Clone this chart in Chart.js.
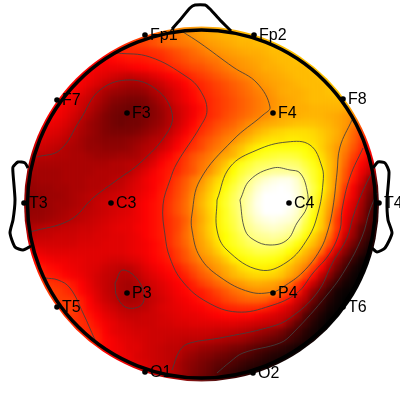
<!DOCTYPE html>
<html>
<head>
<meta charset="utf-8">
<style>
  html, body { margin: 0; background: #fff; }
  canvas { display: block; }
</style>
<script src="https://cdn.jsdelivr.net/npm/chart.js@4/dist/chart.umd.min.js"></script>
</head>
<body>
<canvas id="topo" width="400" height="400"></canvas>
<script>
/* Scalp map. Axes are in mm from the middle of the picture, field values are percent of the colour range. */

var electrodeNames = ['Fp1', 'Fp2', 'F7', 'F3', 'F4', 'F8', 'T3', 'C3', 'C4', 'T4', 'T5', 'P3', 'P4', 'T6', 'O1', 'O2'];
var electrodeX = [-27.5, 27, -71.5, -36.5, 36.5, 71.5, -88, -44.5, 44.5, 89.5, -71.5, -36.5, 36.5, 71.5, -27.5, 26.5];
var electrodeY = [82.5, 82.5, 50, 43.5, 43.5, 50.5, -1.5, -1.5, -1.5, -1.5, -53.5, -46.5, -46.5, -53.5, -86, -86.5];

// one row per grid line, front of the head first, each row centred on the head
var fieldRows = [
  [57,59,60,61,62,63,64],
  [47,49,51,53,55,57,59,61,62,63,64,64,65,65,65],
  [43,44,46,47,49,51,53,54,55,56,58,60,61,62,63,64,64,65,65,66,66],
  [40,41,42,43,43,43,44,45,47,49,51,53,55,57,59,60,61,62,63,63,64,65,65,66,66],
  [37,37,38,39,40,40,41,42,43,45,47,49,51,52,54,55,58,59,60,61,62,63,64,65,65,66,66],
  [37,36,35,35,35,36,37,38,39,40,42,44,46,48,49,51,53,55,57,59,60,61,63,63,64,65,65,65,66],
  [37,36,34,33,31,30,29,30,31,33,35,37,39,41,44,46,48,50,52,54,56,58,60,61,62,63,64,65,65,65,66],
  [38,36,34,32,29,27,25,24,24,26,28,30,33,35,38,41,43,45,47,49,51,53,55,58,60,61,62,63,64,65,65,65,66],
  [39,37,34,31,28,25,23,22,21,21,22,25,27,30,33,36,39,42,44,46,48,50,52,54,56,58,60,62,63,63,64,65,65,66,66],
  [39,37,34,31,29,26,23,20,19,18,18,19,22,25,29,32,35,38,41,43,45,47,49,51,53,55,57,59,61,62,63,64,65,65,65,65,65],
  [38,37,35,33,30,27,24,21,18,17,16,16,18,20,23,26,30,33,36,39,43,45,47,49,51,53,55,57,59,61,62,63,63,64,64,64,64,63,61],
  [37,36,34,31,28,25,22,19,17,16,16,17,18,20,22,26,29,33,36,40,43,45,48,50,52,54,56,58,60,62,63,63,64,64,64,63,62,60,58],
  [36,35,34,32,29,26,23,21,19,17,16,17,17,19,21,23,26,30,34,38,42,45,48,50,52,55,58,60,62,63,64,65,66,66,66,65,64,62,60,56,50],
  [34,33,32,30,27,25,23,21,19,18,18,18,19,21,23,25,28,32,36,40,44,47,50,53,55,58,61,64,66,68,69,70,70,70,69,67,65,63,59,53,47],
  [33,32,31,30,28,26,24,22,21,20,20,20,21,22,24,26,27,31,35,39,43,47,50,53,56,58,62,65,68,70,71,71,72,72,71,70,68,65,62,58,52,46,40],
  [30,30,29,28,26,25,24,22,22,21,21,21,22,24,26,27,30,33,37,41,45,48,52,55,58,63,66,70,73,75,76,76,76,76,75,72,68,64,60,56,50,44,38],
  [27,27,27,26,26,25,25,24,23,23,23,24,24,25,27,30,34,37,41,45,49,52,55,59,62,64,69,74,77,79,80,81,81,80,77,74,70,65,60,54,47,41,36],
  [25,25,25,25,25,25,25,25,25,25,25,26,26,27,27,30,33,37,40,42,46,50,54,57,62,66,73,77,80,83,84,85,86,86,85,81,77,72,66,60,52,44,38,32,28],
  [24,24,24,24,24,25,25,25,25,26,26,26,26,27,30,33,36,39,41,43,47,50,55,59,64,70,75,80,83,86,88,90,90,90,89,84,79,74,66,59,50,42,35,29,24],
  [23,23,24,24,24,25,25,25,26,26,26,27,28,30,32,35,37,39,42,46,50,55,59,64,69,73,78,83,88,92,95,97,98,98,95,87,80,74,66,58,49,40,32,22,14],
  [22,22,23,23,24,24,25,25,26,26,27,28,29,31,33,35,37,40,43,47,51,56,61,66,71,76,81,86,90,95,98,99,100,99,96,90,82,75,66,57,45,36,28,20,12],
  [21,21,22,23,23,24,25,26,27,28,29,30,31,32,34,36,38,41,44,48,52,58,63,68,73,78,83,88,92,97,100,100,100,100,97,90,81,73,64,55,42,35,26,17,9],
  [21,21,22,23,24,24,25,26,27,29,30,31,32,33,35,37,39,41,45,49,53,59,64,69,74,79,84,88,93,98,100,100,100,100,97,90,80,70,62,52,39,32,24,15,7],
  [21,22,22,23,24,25,26,27,28,29,30,31,32,33,35,37,39,41,45,49,53,58,63,68,73,78,83,88,93,97,100,100,100,98,95,87,77,69,60,48,37,30,22,13,6],
  [22,23,23,24,25,26,27,28,29,30,31,32,33,34,35,37,39,41,44,47,51,57,62,67,73,78,82,87,91,95,97,98,97,96,93,83,75,68,58,45,35,27,20,12,6],
  [25,26,27,28,28,29,29,30,30,31,32,33,34,34,36,37,39,41,44,47,52,58,63,68,73,77,81,86,89,92,94,95,94,92,89,80,74,67,58,45,34,24,15,10,5],
  [28,28,29,29,30,30,30,31,31,32,32,33,33,34,35,37,39,41,44,48,53,58,62,67,72,75,79,83,87,89,90,91,90,88,83,76,69,62,54,42,30,22,13,8,4],
  [32,31,31,31,31,31,31,32,32,32,33,33,33,34,35,36,38,40,44,48,52,57,61,65,70,75,78,81,84,86,87,87,85,81,76,71,65,59,49,38,25,17,10,5,2],
  [35,34,33,33,33,33,33,33,33,33,33,33,34,35,36,38,40,42,46,50,55,60,63,67,72,75,78,80,82,82,81,79,75,71,65,60,53,41,29,20,12,7,2],
  [39,37,36,35,35,34,34,33,33,32,31,31,32,33,35,37,39,41,45,49,53,57,60,63,67,72,74,76,77,77,76,74,70,65,61,55,43,32,22,14,8,3,0],
  [42,41,39,38,36,35,34,33,32,30,29,28,28,30,33,35,37,39,41,45,49,53,57,60,63,66,70,72,73,73,72,69,65,61,56,46,37,26,17,10,4,1,0],
  [43,41,40,38,36,35,33,31,29,28,26,26,28,31,33,35,37,39,42,46,50,53,57,61,64,66,68,69,69,68,66,62,58,48,39,28,20,12,6,2,0],
  [46,45,44,43,40,37,34,31,29,27,25,24,26,29,31,33,35,37,39,42,46,49,52,55,58,60,62,63,62,61,59,54,46,38,29,21,13,7,3,1,0],
  [46,46,44,42,38,35,32,29,27,25,24,25,27,30,32,34,36,38,40,41,44,47,50,53,55,57,58,58,58,52,46,41,30,21,14,8,3,1,0],
  [45,46,46,45,41,37,33,30,28,25,24,25,27,29,31,33,35,36,38,40,42,44,47,49,51,52,52,51,47,44,39,31,26,16,10,5,2,0,0],
  [45,46,46,42,38,35,32,30,28,27,27,28,30,32,33,34,35,36,37,39,40,42,43,44,44,44,42,39,35,31,27,19,11,7,3,1,0],
  [45,45,43,40,37,34,32,30,29,29,30,30,31,32,33,34,34,35,36,37,38,38,38,38,36,34,32,30,28,21,12,8,4,1,0],
  [44,44,42,39,36,34,32,31,30,30,30,31,31,32,32,33,33,33,33,33,33,32,31,30,29,28,27,20,14,10,5,2,0],
  [43,43,41,37,34,33,32,31,31,30,30,30,30,30,30,30,30,29,29,28,27,26,24,22,20,17,13,10,6,3,1],
  [43,42,38,36,34,33,32,31,30,30,29,29,28,28,28,27,26,25,24,23,21,19,17,15,13,10,7,4,2],
  [41,38,36,35,33,33,31,30,29,28,28,26,25,23,22,21,20,18,17,15,13,11,9,7,5,3,1],
  [38,36,35,34,32,31,30,29,28,27,24,22,20,19,17,16,14,13,11,9,7,5,4,2,1],
  [35,34,33,32,30,29,28,25,22,20,18,16,14,13,11,9,7,6,4,3,1],
  [32,30,29,28,25,22,19,17,15,12,10,8,6,4,3],
  [24,20,17,15,13,11,9]
];

// contour lines, as [x, y]
var contourInner = [[20,0],[25,10],[36.5,16],[45,15],[50,13.5],[53.5,5],[53.5,-3.5],[48.5,-11.5],[43.5,-20],[35,-22.5],[27,-20],[22.5,-15],[20,0]];
var contourYellow = [[8.5,0],[15,16.5],[28.5,25],[43.5,29],[55,27.5],[61,16.5],[61.5,8.5],[59,-6.5],[54,-19],[43.5,-31],[30,-35],[13.5,-25],[8.5,-15],[8.5,0]];
var contourOrange = [[-8.5,84],[0,78.5],[16.5,66.5],[28.5,58.5],[35,46.5],[31.5,42.5],[16.5,30],[0,10],[-4,-7],[-4,-15],[0,-28.5],[10,-38.5],[25,-46],[36.5,-46],[41.5,-43.5],[51.5,-36],[60,-25],[64,-15],[66.5,-3.5],[68.5,13.5],[70,26.5],[76,40]];
var contourRed = [[-41.5,73.5],[-25,71.5],[-6.5,61.5],[0,55],[3.5,45],[0,36.5],[-11.5,18.5],[-15,10],[-18.5,-2.5],[-17.5,-17.5],[-15,-29],[-8.5,-41],[3.5,-51],[18.5,-56],[35,-53],[48.5,-46.5],[56.5,-36.5],[65,-26.5],[70,-15],[71,-5],[75,11.5],[81.5,26]];
var contourT5 = [[-77.5,-39],[-71,-40],[-65,-44],[-58.5,-56.5],[-52.5,-70]];
var contourF3 = [[-81.5,21.5],[-70,25],[-60,40],[-50,55],[-35,60],[-21.5,55],[-14,43.5],[-16.5,33.5],[-30,18.5],[-41.5,10],[-53.5,1],[-65,-10],[-85,-16]];
var contourP3 = [[-42.5,-41.5],[-38.5,-35],[-30,-41.5],[-28.5,-51.5],[-36,-54],[-41.5,-48.5],[-42.5,-41.5]];
var contourDark = [[-14,-85],[-10,-75],[-5,-71.5],[10,-69],[35,-63.5],[45,-59],[58.5,-46.5],[66.5,-31],[73.5,-19],[76.5,-8.5],[81,3.5],[86.5,15]];
var contourBlack = [[8.5,-86.5],[15,-81],[21.5,-76.5],[40,-71.5],[46.5,-66.5],[63.5,-47.5],[72.5,-35],[81,-18.5],[85,-5],[88.5,3.5]];

var noseLine = [[-14,85.5],[-10,90],[-5,96],[-2.5,97.5],[2.5,97.5],[5,95.5],[10,90],[15.5,84.5]];
var earLeft = [[-86,16],[-87.5,18.5],[-91,19],[-93.5,16.5],[-93.5,13.5],[-92.5,0],[-93.5,-10],[-95,-16.5],[-92.5,-23.5],[-88.5,-25],[-84.5,-23]];
var earRight = [[86.5,16],[89,19],[92.5,18.5],[94.5,14],[93.5,0],[94,-10],[96,-16.5],[92.5,-24],[88.5,-26],[86,-24]];

var headX = 0.75, headY = -2, headR = 87, discR = 88.75, cellStep = 4;
var edgeCells = 3; // repeat the rim value past each row end so the disc is fully covered

function hot(pct) {
  var v = pct / 100;
  var r = Math.min(1, v / 0.375);
  var g = Math.max(0, Math.min(1, (v - 0.375) / 0.375));
  var b = Math.max(0, Math.min(1, (v - 0.75) / 0.25));
  return 'rgb(' + Math.round(r * 255) + ',' + Math.round(g * 255) + ',' + Math.round(b * 255) + ')';
}

function toPoints(list) {
  return list.map(function (p) { return { x: p[0], y: p[1] }; });
}

var cellPoints = [];
var cellColors = [];
fieldRows.forEach(function (row, j) {
  for (var i = -edgeCells; i < row.length + edgeCells; i++) {
    var val = row[Math.max(0, Math.min(row.length - 1, i))];
    cellPoints.push({
      x: headX + cellStep * (i - (row.length - 1) / 2),
      y: headY + cellStep * ((fieldRows.length - 1) / 2 - j)
    });
    cellColors.push(hot(val));
  }
});

var contourSets = [contourInner, contourYellow, contourOrange, contourRed, contourT5, contourF3, contourP3, contourDark, contourBlack].map(function (c) {
  return { data: toPoints(c), showLine: true, pointRadius: 0, borderColor: 'rgba(64,64,64,0.85)', borderWidth: 1, tension: 0.4, order: 5 };
});

var outlineSets = [noseLine, earLeft, earRight].map(function (c) {
  return { data: toPoints(c), showLine: true, pointRadius: 0, borderColor: '#000', borderWidth: 3, tension: 0.2, order: 3, clip: false };
});

// softens the cell edges, then trims the field to the head disc
var discSoften = {
  id: 'discSoften',
  afterDatasetDraw: function (chart, args) {
    if (args.index !== 0) return;
    var sx = chart.scales.x, sy = chart.scales.y;
    var ctx = chart.ctx;
    var copy = document.createElement('canvas');
    copy.width = chart.canvas.width;
    copy.height = chart.canvas.height;
    copy.getContext('2d').drawImage(chart.canvas, 0, 0);
    ctx.save();
    ctx.clearRect(0, 0, copy.width, copy.height);
    ctx.beginPath();
    ctx.arc(sx.getPixelForValue(headX), sy.getPixelForValue(headY), sx.getPixelForValue(discR) - sx.getPixelForValue(0), 0, Math.PI * 2);
    ctx.clip();
    ctx.filter = 'blur(2.5px)';
    ctx.drawImage(copy, 0, 0);
    ctx.restore();
  }
};

var headAndLabels = {
  id: 'headAndLabels',
  afterDatasetsDraw: function (chart) {
    var sx = chart.scales.x, sy = chart.scales.y;
    var ctx = chart.ctx;
    ctx.save();
    ctx.beginPath();
    ctx.arc(sx.getPixelForValue(headX), sy.getPixelForValue(headY), sx.getPixelForValue(headR) - sx.getPixelForValue(0), 0, Math.PI * 2);
    ctx.lineWidth = 3.5;
    ctx.strokeStyle = '#000';
    ctx.stroke();

    ctx.fillStyle = '#000';
    ctx.font = '16px "Liberation Sans"';
    ctx.textBaseline = 'middle';
    electrodeNames.forEach(function (name, i) {
      ctx.fillText(name, sx.getPixelForValue(electrodeX[i]) + 5, sy.getPixelForValue(electrodeY[i]) + 1);
    });
    ctx.restore();
  }
};

var electrodePoints = electrodeX.map(function (x, i) { return { x: x, y: electrodeY[i] }; });

new Chart(document.getElementById('topo'), {
  type: 'scatter',
  data: {
    datasets: [
      { data: cellPoints, pointStyle: 'rect', pointRadius: 6, pointBorderWidth: 0, pointBackgroundColor: cellColors, order: 10 }
    ].concat(contourSets, outlineSets, [
      { data: electrodePoints, pointRadius: 2.8, pointBorderWidth: 0, pointBackgroundColor: '#000', order: 1, clip: false }
    ])
  },
  options: {
    responsive: false,
    animation: false,
    layout: { padding: 0, autoPadding: false },
    plugins: { legend: { display: false }, tooltip: { enabled: false } },
    scales: {
      x: { type: 'linear', min: -100, max: 100, display: false },
      y: { type: 'linear', min: -100, max: 100, display: false }
    }
  },
  plugins: [discSoften, headAndLabels]
});
</script>
</body>
</html>
